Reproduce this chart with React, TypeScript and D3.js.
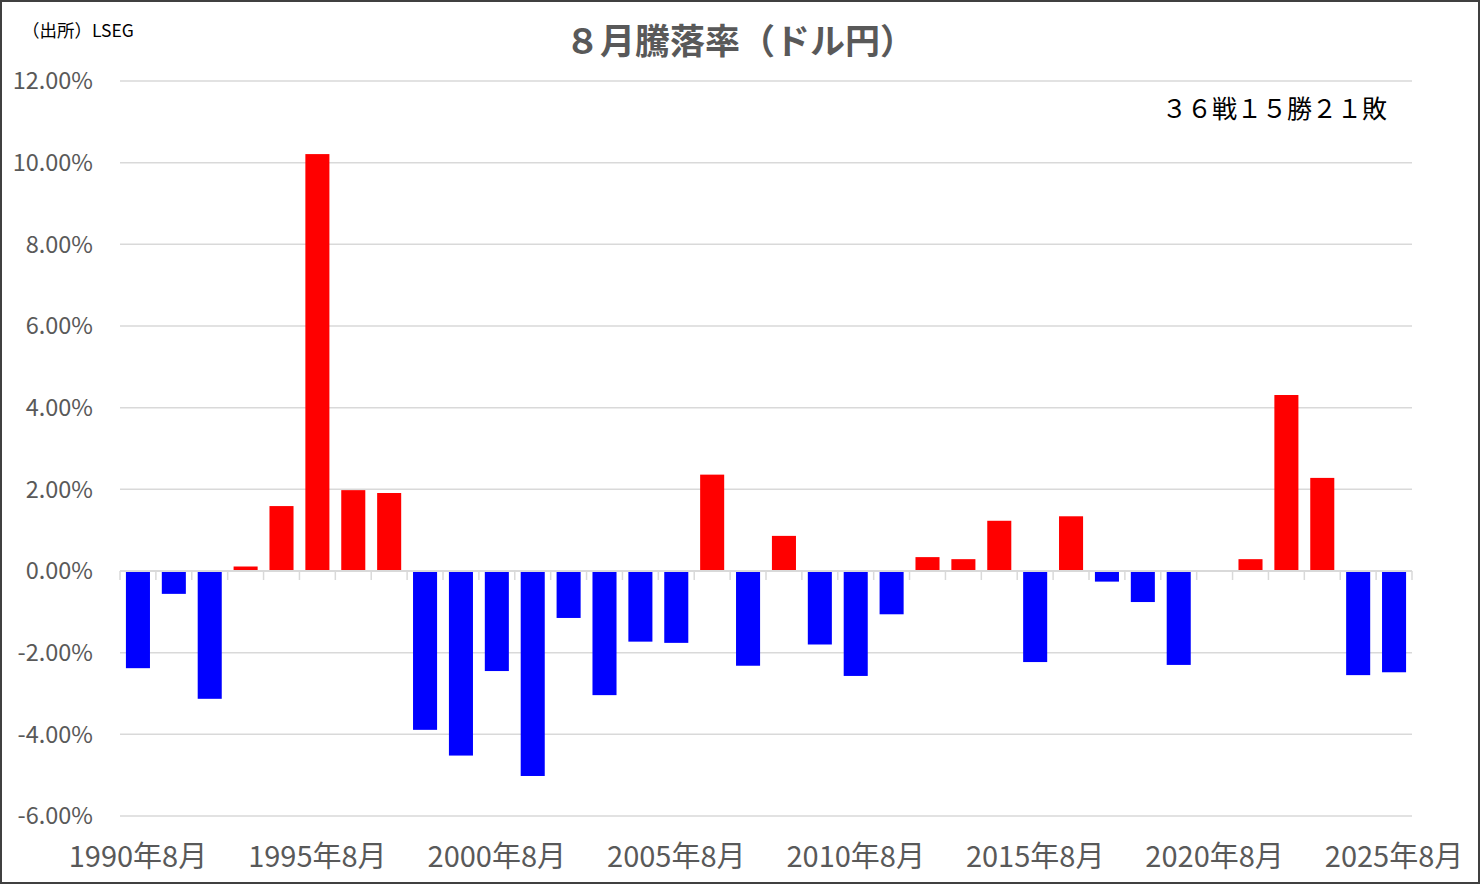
import React from 'react'
import * as d3 from 'd3'

const years = d3.range(1990, 2026).map((y) => `${y}年8月`)
const changes = [
  -2.38, -0.56, -3.13, 0.11, 1.59, 10.21, 1.98, 1.91, -3.89, -4.52,
  -2.45, -5.02, -1.15, -3.04, -1.73, -1.76, 2.36, -2.32, 0.86, -1.8,
  -2.57, -1.06, 0.34, 0.29, 1.23, -2.23, 1.34, -0.26, -0.76, -2.3,
  0.0, 0.29, 4.31, 2.28, -2.55, -2.48,
]
const yTicks = [-6, -4, -2, 0, 2, 4, 6, 8, 10, 12]
const labelEvery = 5

const W = 1480
const H = 884
const font = '"Noto Sans CJK JP", "Noto Sans", sans-serif'

const App = () => {
  const x = d3.scaleBand().domain(years).range([120, 1412]).paddingInner(0.33).paddingOuter(0.165)
  const y = d3.scaleLinear().domain([-6, 12]).range([816, 81])
  const step = x.step()
  const y0 = y(0)

  return (
    <>
      <style>{`body{margin:0}`}</style>
      <svg width={W} height={H} style={{ display: 'block', fontFamily: font }}>
        <rect x={1} y={1} width={W - 2} height={H - 2} fill='#fff' stroke='#404040' strokeWidth={2} />

        {yTicks.map((t) => (
          <g key={`y-${t}`}>
            <line x1={120} x2={1412} y1={y(t)} y2={y(t)} stroke='#d9d9d9' strokeWidth={1.5} />
            <text x={93} y={y(t)} dy='0.36em' textAnchor='end' fontSize={23.5} fill='#595959'>
              {`${t.toFixed(2)}%`}
            </text>
          </g>
        ))}

        {changes.map((v, i) => (
          <rect
            key={`bar-${i}`}
            x={x(years[i])}
            y={Math.min(y(v), y0)}
            width={x.bandwidth()}
            height={Math.abs(y(v) - y0)}
            fill={v >= 0 ? '#ff0000' : '#0000ff'}
          />
        ))}

        <line x1={120} x2={1412} y1={y0} y2={y0} stroke='#d9d9d9' strokeWidth={2} />
        {d3.range(years.length + 1).map((k) => (
          <line
            key={`tick-${k}`}
            x1={120 + k * step}
            x2={120 + k * step}
            y1={y0}
            y2={y0 + 9}
            stroke='#d9d9d9'
            strokeWidth={1.5}
          />
        ))}

        {years.map((yr, i) =>
          i % labelEvery === 0 ? (
            <text
              key={`xl-${i}`}
              x={(x(yr) || 0) + x.bandwidth() / 2}
              y={867}
              textAnchor='middle'
              fontSize={29}
              fill='#595959'
            >
              {yr}
            </text>
          ) : null
        )}

        <text x={740} y={54} textAnchor='middle' fontSize={35} fontWeight='bold' fill='#595959'>
          ８月騰落率（ドル円）
        </text>
        <text x={22} y={37} fontSize={17.5} fill='#000'>
          （出所）LSEG
        </text>
        <text x={1162} y={118} fontSize={25} fill='#000'>
          ３６戦１５勝２１敗
        </text>
      </svg>
    </>
  )
}

export default App
